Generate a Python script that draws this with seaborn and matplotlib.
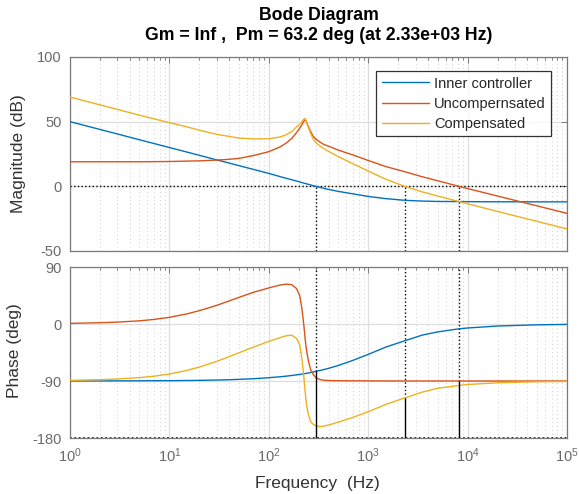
import matplotlib
matplotlib.use("Agg")
import matplotlib.pyplot as plt
import numpy as np
import pandas as pd
import seaborn as sns
from matplotlib.ticker import LogLocator, NullFormatter

# ---------------- data ----------------
freq = [1, 2, 3, 5, 7, 10, 15, 20, 30, 40, 50, 70, 100, 130, 150, 170, 190, 205, 215,
        225, 233, 240, 250, 265, 280, 300, 330, 360, 400, 500, 700, 1000, 1500, 2330,
        3500, 5000, 8200, 10000, 20000, 50000, 100000]

mag_inner = [50.0, 44.0, 40.5, 36.0, 33.1, 30.0, 26.5, 24.0, 20.4, 18.0, 16.0, 13.1,
             10.0, 7.5, 6.2, 5.1, 4.1, 3.4, 2.9, 2.5, 2.2, 1.9, 1.6, 1.0, 0.5, -0.1,
             -0.9, -1.6, -2.4, -3.9, -5.8, -7.8, -9.5, -10.8, -11.4, -11.7, -11.8,
             -11.85, -11.95, -12.0, -12.0]
mag_uncomp = [19.0, 19.0, 19.0, 19.0, 19.1, 19.2, 19.5, 19.7, 20.3, 20.9, 21.6, 23.8,
              26.8, 30.5, 33.5, 37.0, 41.5, 45.0, 47.5, 50.3, 51.6, 49.6, 46.3, 42.0,
              38.6, 36.3, 34.0, 32.3, 31.0, 28.0, 24.3, 20.0, 15.3, 11.3, 7.4, 4.3, 0.0,
              -1.7, -7.5, -15.1, -20.9]
mag_comp = [69.0, 63.0, 59.5, 55.0, 52.2, 49.2, 46.0, 43.4, 40.2, 38.6, 37.3, 36.7,
            36.7, 38.2, 39.9, 42.3, 46.0, 48.0, 50.0, 52.0, 52.4, 49.3, 45.5, 40.5,
            36.6, 33.5, 31.0, 29.0, 27.0, 23.0, 17.5, 11.8, 5.5, 0.0, -4.3, -7.5,
            -11.8, -13.5, -19.4, -27.1, -32.9]

ph_inner = [-89.9, -89.9, -89.8, -89.7, -89.6, -89.5, -89.2, -89.0, -88.5, -88.0,
            -87.4, -86.4, -84.8, -83.3, -82.3, -81.3, -80.3, -79.6, -79.1, -78.6,
            -78.2, -77.9, -77.3, -76.5, -75.8, -74.5, -73.2, -71.8, -70.0, -65.5,
            -57.5, -48.0, -36.5, -26.5, -17.5, -12.5, -7.6, -6.3, -3.2, -1.3, -0.6]
ph_uncomp = [1.0, 2.0, 3.0, 5.0, 7.2, 10.5, 16.0, 21.0, 29.5, 36.5, 42.0, 50.0, 57.0,
             61.5, 63.0, 62.0, 56.0, 44.5, 25.0, -1.5, -26.0, -42.0, -58.0, -73.3,
             -79.5, -85.3, -87.8, -88.8, -89.3, -89.6, -89.7, -89.8, -89.9, -90.0,
             -90.0, -90.0, -90.0, -90.0, -90.0, -90.0, -90.0]
ph_comp = [-89.0, -88.0, -86.8, -84.7, -82.4, -79.0, -73.2, -68.0, -59.0, -51.5,
           -45.5, -36.5, -27.5, -21.5, -18.5, -17.8, -22.5, -33.5, -54.0, -83.0,
           -110.0, -128.0, -143.0, -154.5, -158.5, -161.0, -162.0, -161.0, -159.5,
           -155.0, -147.5, -138.5, -127.0, -116.8, -107.5, -101.5, -97.0, -95.5,
           -92.8, -91.2, -90.6]

series_names = ["Inner controller", "Uncompernsated", "Compensated"]
series_colors = ["#0072BD", "#D95319", "#EDB120"]

cross_freq = [297, 2330, 8200]
cross_phase = [-74.5, -116.8, -89.9]

title_1 = "Bode Diagram"
title_2 = "Gm = Inf ,  Pm = 63.2 deg (at 2.33e+03 Hz)"

# ---------------- tidy table ----------------
rows = []
for name, mags, phs in zip(series_names, [mag_inner, mag_uncomp, mag_comp],
                           [ph_inner, ph_uncomp, ph_comp]):
    for f, m, p in zip(freq, mags, phs):
        rows.append({"freq": f, "mag": m, "phase": p, "series": name})
df = pd.DataFrame(rows)

# ---------------- style ----------------
sns.set_theme(style="white")
plt.rcParams["font.family"] = ["Liberation Sans", "DejaVu Sans"]
plt.rcParams["mathtext.fontset"] = "custom"
plt.rcParams["mathtext.rm"] = "Liberation Sans"
plt.rcParams["mathtext.it"] = "Liberation Sans:italic"
plt.rcParams["mathtext.bf"] = "Liberation Sans:bold"
plt.rcParams["axes.unicode_minus"] = False

spine_c = "#7a7a7a"
tick_c = "#6a6a6a"
label_c = "#333333"

fig = plt.figure(figsize=(5.79, 4.94), dpi=100)
W, H = 579.0, 494.0
x0, x1 = 70, 567
ax1 = fig.add_axes([x0 / W, 1 - 251 / H, (x1 - x0) / W, 194 / H])
ax2 = fig.add_axes([x0 / W, 1 - 438 / H, (x1 - x0) / W, 171 / H])

for ax in (ax1, ax2):
    ax.set_xscale("log")

sns.lineplot(data=df, x="freq", y="mag", hue="series", hue_order=series_names,
             palette=series_colors, estimator=None, sort=False, linewidth=1.0,
             ax=ax1, zorder=3)
sns.lineplot(data=df, x="freq", y="phase", hue="series", hue_order=series_names,
             palette=series_colors, estimator=None, sort=False, linewidth=1.0,
             ax=ax2, legend=False, zorder=3)

# margin markers
ax1.axhline(0, color="black", ls=":", lw=1.0, zorder=2)
ax1.vlines(cross_freq, -50, 0, colors="black", linestyles=":", lw=1.0, zorder=2)
ax2.axhline(-180, color="black", ls=":", lw=1.2, zorder=2)
ax2.vlines(cross_freq, cross_phase, 90, colors="black", linestyles=":", lw=1.0, zorder=2)
ax2.vlines(cross_freq, -180, cross_phase, colors="black", linestyles="-", lw=1.0, zorder=4)

ax1.set_ylim(-50, 100)
ax1.set_yticks([-50, 0, 50, 100])
ax2.set_ylim(-180, 90)
ax2.set_yticks([-180, -90, 0, 90])

for ax in (ax1, ax2):
    ax.set_xlim(1, 1e5)
    ax.xaxis.set_major_locator(LogLocator(base=10, numticks=10))
    ax.xaxis.set_minor_locator(LogLocator(base=10, subs=np.arange(2, 10), numticks=100))
    ax.xaxis.set_minor_formatter(NullFormatter())
    ax.grid(True, which="major", axis="both", color="#dedede", lw=0.9, ls="-", zorder=0)
    ax.grid(True, which="minor", axis="x", color="#cfcfcf", lw=0.7, ls=(0, (1, 3)), zorder=0)
    ax.set_axisbelow(True)
    ax.tick_params(which="both", direction="in", top=True, right=True, color=spine_c,
                   labelcolor=tick_c, labelsize=10.5, width=0.7)
    ax.tick_params(which="major", length=4, pad=6)
    ax.tick_params(which="minor", length=2.2)
    for s in ax.spines.values():
        s.set_visible(True)
        s.set_color(spine_c)
        s.set_linewidth(0.9)
    ax.set_xlabel("")
    ax.set_ylabel("")

ax1.tick_params(axis="x", labelbottom=False)

leg = ax1.legend(loc="upper right", bbox_to_anchor=(0.968, 0.928), borderaxespad=0,
                 frameon=True, fancybox=False, edgecolor="black", fontsize=10.5,
                 handlelength=3.2, handletextpad=0.35, labelspacing=0.42,
                 borderpad=0.38, title=None)
leg.get_frame().set_linewidth(0.9)
for t in leg.get_texts():
    t.set_color("#262626")

cx = ((x0 + x1) / 2) / W
fig.text(cx, 1 - 20.5 / H, title_1, ha="center", va="baseline", fontsize=12.7,
         fontweight="bold", color="black")
fig.text(cx, 1 - 39.5 / H, title_2, ha="center", va="baseline", fontsize=12.7,
         fontweight="bold", color="black")
fig.text(19 / W, 1 - 154 / H, "Magnitude (dB)", rotation=90, ha="center", va="center",
         fontsize=12.5, color=label_c)
fig.text(15 / W, 1 - 351 / H, "Phase (deg)", rotation=90, ha="center", va="center",
         fontsize=12.5, color=label_c)
fig.text(317 / W, 1 - 488 / H, "Frequency  (Hz)", ha="center", va="baseline",
         fontsize=12.5, color=label_c)

fig.savefig("out.png", dpi=100)
